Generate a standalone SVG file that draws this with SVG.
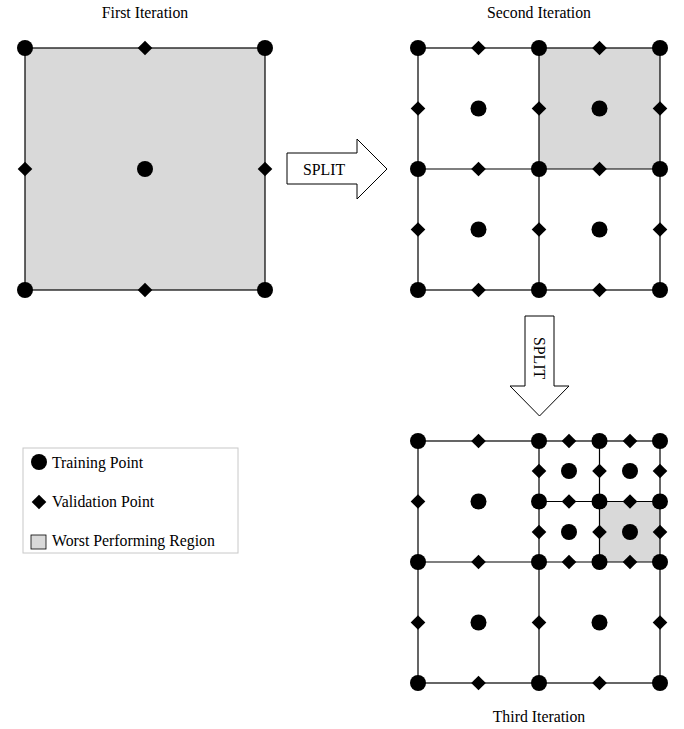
<svg xmlns="http://www.w3.org/2000/svg" width="684" height="729" viewBox="0 0 684 729">
  <defs>
    <style>
      .grid { fill: none; stroke: #000; stroke-width: 1.2; }
      .worst { fill: #d9d9d9; stroke: none; }
      .lbl { font-family: "Liberation Serif", "Times New Roman", serif; font-size: 15.8px; fill: #000; }
      .arrow { fill: #fff; stroke: #000; stroke-width: 1; }
    </style>
    <circle id="tp" r="8" fill="#000"/>
    <polygon id="vp" points="0,-7.3 7.3,0 0,7.3 -7.3,0" fill="#000"/>
  </defs>
  <rect width="684" height="729" fill="#fff"/>

  <!-- First iteration: single region -->
  <g id="iter1">
    <text class="lbl" x="145" y="18" text-anchor="middle">First Iteration</text>
    <rect class="worst" x="25" y="48" width="240" height="242"/>
    <rect class="grid" x="25" y="48" width="240" height="242"/>
    <use href="#tp" x="25" y="48"/><use href="#tp" x="265" y="48"/>
    <use href="#tp" x="25" y="290"/><use href="#tp" x="265" y="290"/>
    <use href="#tp" x="145" y="169"/>
    <use href="#vp" x="145" y="48"/><use href="#vp" x="25" y="169"/>
    <use href="#vp" x="265" y="169"/><use href="#vp" x="145" y="290"/>
  </g>

  <!-- Second iteration: 2x2 split -->
  <g id="iter2">
    <text class="lbl" x="539" y="18" text-anchor="middle">Second Iteration</text>
    <rect class="worst" x="539" y="48" width="121" height="121"/>
    <rect class="grid" x="418" y="48" width="242" height="242"/>
    <path class="grid" d="M539 48V290M418 169H660"/>
    <g>
      <use href="#tp" x="418" y="48"/><use href="#tp" x="539" y="48"/><use href="#tp" x="660" y="48"/>
      <use href="#tp" x="418" y="169"/><use href="#tp" x="539" y="169"/><use href="#tp" x="660" y="169"/>
      <use href="#tp" x="418" y="290"/><use href="#tp" x="539" y="290"/><use href="#tp" x="660" y="290"/>
      <use href="#tp" x="478.5" y="108.5"/><use href="#tp" x="599.5" y="108.5"/>
      <use href="#tp" x="478.5" y="229.5"/><use href="#tp" x="599.5" y="229.5"/>
    </g>
    <g>
      <use href="#vp" x="478.5" y="48"/><use href="#vp" x="599.5" y="48"/>
      <use href="#vp" x="478.5" y="169"/><use href="#vp" x="599.5" y="169"/>
      <use href="#vp" x="478.5" y="290"/><use href="#vp" x="599.5" y="290"/>
      <use href="#vp" x="418" y="108.5"/><use href="#vp" x="539" y="108.5"/><use href="#vp" x="660" y="108.5"/>
      <use href="#vp" x="418" y="229.5"/><use href="#vp" x="539" y="229.5"/><use href="#vp" x="660" y="229.5"/>
    </g>
  </g>

  <!-- Third iteration: top-right quadrant split again -->
  <g id="iter3">
    <text class="lbl" x="539" y="722" text-anchor="middle">Third Iteration</text>
    <rect class="worst" x="599.5" y="501.5" width="60.5" height="60.5"/>
    <rect class="grid" x="418" y="441" width="242" height="242"/>
    <path class="grid" d="M539 441V683M418 562H660M599.5 441V562M539 501.5H660"/>
    <g>
      <use href="#tp" x="418" y="441"/><use href="#tp" x="539" y="441"/><use href="#tp" x="660" y="441"/>
      <use href="#tp" x="418" y="562"/><use href="#tp" x="539" y="562"/><use href="#tp" x="660" y="562"/>
      <use href="#tp" x="418" y="683"/><use href="#tp" x="539" y="683"/><use href="#tp" x="660" y="683"/>
      <use href="#tp" x="478.5" y="501.5"/>
      <use href="#tp" x="478.5" y="622.5"/><use href="#tp" x="599.5" y="622.5"/>
      <use href="#tp" x="599.5" y="441"/><use href="#tp" x="539" y="501.5"/>
      <use href="#tp" x="599.5" y="501.5"/><use href="#tp" x="660" y="501.5"/>
      <use href="#tp" x="599.5" y="562"/>
      <use href="#tp" x="569" y="471"/><use href="#tp" x="630" y="471"/>
      <use href="#tp" x="569" y="532"/><use href="#tp" x="630" y="532"/>
    </g>
    <g>
      <use href="#vp" x="478.5" y="441"/><use href="#vp" x="478.5" y="562"/>
      <use href="#vp" x="478.5" y="683"/><use href="#vp" x="599.5" y="683"/>
      <use href="#vp" x="418" y="501.5"/>
      <use href="#vp" x="418" y="622.5"/><use href="#vp" x="539" y="622.5"/><use href="#vp" x="660" y="622.5"/>
      <use href="#vp" x="569" y="441"/><use href="#vp" x="630" y="441"/>
      <use href="#vp" x="569" y="501.5"/><use href="#vp" x="630" y="501.5"/>
      <use href="#vp" x="569" y="562"/><use href="#vp" x="630" y="562"/>
      <use href="#vp" x="539" y="471"/><use href="#vp" x="599.5" y="471"/><use href="#vp" x="660" y="471"/>
      <use href="#vp" x="539" y="532"/><use href="#vp" x="599.5" y="532"/><use href="#vp" x="660" y="532"/>
    </g>
  </g>

  <!-- Split arrows -->
  <g id="connectors">
    <g id="split-right">
      <polygon class="arrow" points="287,153 357,153 357,139 387,169 357,199 357,184 287,184"/>
      <text class="lbl" x="324" y="175" text-anchor="middle">SPLIT</text>
    </g>
    <g id="split-down">
      <polygon class="arrow" points="525,316 554,316 554,386 569,386 539.5,416 510,386 525,386"/>
      <text class="lbl" x="0" y="0" text-anchor="middle" transform="translate(534 358) rotate(90)">SPLIT</text>
    </g>
  </g>

  <!-- Legend -->
  <g id="legend">
    <rect x="23" y="448" width="215" height="105" fill="#fff" stroke="#c8c8c8" stroke-width="1"/>
    <use href="#tp" x="39" y="462"/>
    <text class="lbl" x="52" y="468">Training Point</text>
    <use href="#vp" x="39" y="502"/>
    <text class="lbl" x="52" y="507">Validation Point</text>
    <rect x="31" y="535" width="15" height="14" fill="#d9d9d9" stroke="#000" stroke-width="0.8"/>
    <text class="lbl" x="52" y="546">Worst Performing Region</text>
  </g>
</svg>
